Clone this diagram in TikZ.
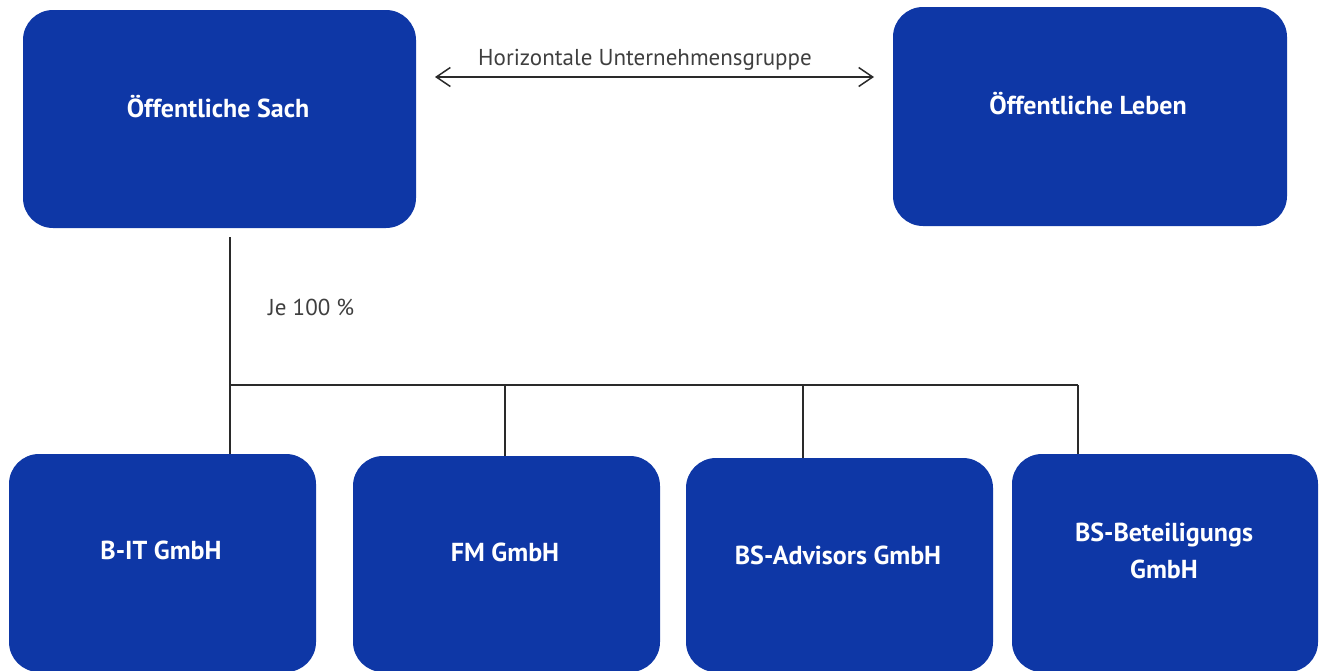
\documentclass[tikz,border=0pt]{standalone}
\usepackage{fontspec}
\setmainfont{PT Sans}
\usetikzlibrary{arrows.meta}
\definecolor{boxblue}{HTML}{0E37A6}
\definecolor{linegray}{HTML}{2A2A2A}
\tikzset{
  box/.style={draw=none, fill=boxblue, rounded corners=30pt, inner sep=0pt},
  boxtext/.style={text=white, font=\fontsize{26}{37}\selectfont\bfseries, align=center, inner sep=0pt},
  lbl/.style={text=linegray!90, font=\fontsize{23}{27}\selectfont, inner sep=0pt},
  conn/.style={draw=linegray, line width=1.5pt},
  barbtip/.tip={Straight Barb[length=14pt,width=19pt,line width=1.5pt]},
}
\begin{document}
\begin{tikzpicture}[x=1pt, y=-1pt]
\useasboundingbox (0,0) rectangle (1322,670);
% boxes
\node[box, minimum width=393pt, minimum height=218pt] (sach) at (219.5,119) {};
\node[box, minimum width=394pt, minimum height=219pt] (leben) at (1090,116.5) {};
\node[box, minimum width=307pt, minimum height=218pt] (bit) at (162.5,563) {};
\node[box, minimum width=307pt, minimum height=216pt] (fm) at (506.5,564) {};
\node[box, minimum width=307pt, minimum height=214pt] (bsa) at (839.5,565) {};
\node[box, minimum width=306pt, minimum height=218pt] (bsb) at (1165,563) {};
% box texts
\node[boxtext] (tsach) at (218,107) {Öffentliche Sach};
\node[boxtext] (tleben) at (1088,104) {Öffentliche Leben};
\node[boxtext] (tbit) at (161,550) {B-IT GmbH};
\node[boxtext] (tfm) at (505,552) {FM GmbH};
\node[boxtext] (tbsa) at (838,555) {BS-Advisors GmbH};
\node[boxtext] (tbsb) at (1164,551) {BS-Beteiligungs\\GmbH};
% horizontal group arrow
\coordinate (al) at (435,77);
\coordinate (ar) at (874,77);
\draw[conn, barbtip-barbtip] (al) -- (ar);
\node[lbl] (hlabel) at (645,60) {Horizontale Unternehmensgruppe};
% tree connectors
\coordinate (j0) at (230,237);
\coordinate (j1) at (230,385);
\coordinate (d2) at (505,385);
\coordinate (d3) at (803,385);
\coordinate (d4) at (1078,385);
\draw[conn] (j0) -- (j0 |- bit.north);
\draw[conn] (j1) -- (d4);
\draw[conn] (d2) -- (d2 |- fm.north);
\draw[conn] (d3) -- (d3 |- bsa.north);
\draw[conn] (d4) -- (d4 |- bsb.north);
\node[lbl, anchor=west] (je) at (268,307) {Je 100 \%};
\end{tikzpicture}
\end{document}
